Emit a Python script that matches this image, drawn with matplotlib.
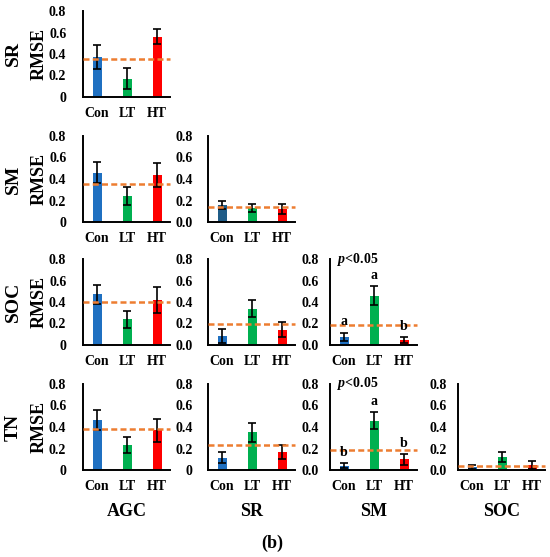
import numpy as np
import matplotlib
matplotlib.use('Agg')
import matplotlib.pyplot as plt

plt.rcParams['font.family'] = ['Liberation Serif', 'DejaVu Serif']
plt.rcParams['font.weight'] = 'bold'
plt.rcParams['mathtext.fontset'] = 'custom'
plt.rcParams['mathtext.it'] = 'Liberation Serif:italic:bold'
plt.rcParams['mathtext.rm'] = 'Liberation Serif:bold'

# RMSE of each model pair (lower triangle: row variable vs column variable)
row_vars = ['SR', 'SM', 'SOC', 'TN']
col_vars = ['AGC', 'SR', 'SM', 'SOC']
groups = ['Con', 'LT', 'HT']

rmse_mean = [
    [[0.37, 0.17, 0.56]],
    [[0.46, 0.24, 0.44], [0.16, 0.13, 0.12]],
    [[0.47, 0.24, 0.415], [0.085, 0.337, 0.14], [0.075, 0.46, 0.043]],
    [[0.465, 0.233, 0.37], [0.115, 0.35, 0.17], [0.038, 0.46, 0.10], [0.03, 0.12, 0.046]],
]
rmse_err = [
    [[0.11, 0.10, 0.07]],
    [[0.095, 0.085, 0.11], [0.04, 0.04, 0.05]],
    [[0.09, 0.08, 0.12], [0.063, 0.078, 0.07], [0.04, 0.085, 0.027]],
    [[0.09, 0.073, 0.107], [0.05, 0.087, 0.067], [0.024, 0.075, 0.05], [0.02, 0.05, 0.036]],
]
# overall RMSE (dashed line)
rmse_all = [
    [0.353],
    [0.35, 0.135],
    [0.397, 0.20, 0.19],
    [0.384, 0.23, 0.185, 0.037],
]
# significance letters
sig_letters = {(2, 2): ['a', 'a', 'b'], (3, 2): ['b', 'a', 'b']}
zero_as_int = [(0, 0), (1, 0), (2, 0), (3, 0), (3, 1)]

bar_colors = ['#1F70C1', '#00B050', '#FF0000']
dark_con = '#1F5C87'

W, H = 550, 557
fig = plt.figure(figsize=(W / 100, H / 100), dpi=100)

col_left = [83, 208, 330, 458]
row_top = [11, 136, 259, 384]
ax_w, ax_h = 87, 86
ypads = [12, 11, 8, 8]

x = np.arange(len(groups))
for i, rv in enumerate(row_vars):
    for j in range(i + 1):
        ax = fig.add_axes([col_left[j] / W, 1 - (row_top[i] + ax_h) / H, ax_w / W, ax_h / H])
        colors = list(bar_colors)
        if (i, j) == (1, 1):
            colors[0] = dark_con
        m = rmse_mean[i][j]
        e = rmse_err[i][j]
        ax.bar(x, m, width=0.3, color=colors, zorder=2)
        ax.errorbar(x, m, yerr=e, fmt='none', ecolor='black', elinewidth=1.2,
                    capsize=3, capthick=1.2, zorder=3)
        ax.axhline(rmse_all[i][j], color='#ED7D31', lw=1.8, dashes=(2.4, 1.3), zorder=4,
                   clip_on=False)
        ax.set_xlim(-0.47, 2.43)
        ax.set_ylim(0, 0.8)
        ax.set_yticks([0, 0.2, 0.4, 0.6, 0.8])
        if (i, j) in zero_as_int:
            ax.set_yticklabels(['0', '0.2', '0.4', '0.6', '0.8'])
        else:
            ax.set_yticklabels(['0.0', '0.2', '0.4', '0.6', '0.8'])
        ax.set_xticks(x)
        ax.set_xticklabels(groups)
        ax.tick_params(length=0, labelsize=10)
        ax.tick_params(axis='x', pad=7)
        ax.tick_params(axis='y', pad=ypads[j])
        for s in ['top', 'right']:
            ax.spines[s].set_visible(False)
        for s in ['left', 'bottom']:
            ax.spines[s].set_linewidth(1.4)
        if (i, j) in sig_letters:
            for k, lab in enumerate(sig_letters[(i, j)]):
                ax.text(x[k], m[k] + e[k] + 0.1, lab, ha='center', va='center',
                        fontsize=10, fontweight='bold', zorder=5)
            ax.text(0.08, 1.0, r'$p$<0.05', transform=ax.transAxes, ha='left',
                    va='center', fontsize=10)
        if j == 0:
            ax.set_ylabel('RMSE', fontsize=13, fontweight='bold', va='center')
            ax.yaxis.set_label_coords((39 - col_left[0]) / ax_w, 0.5)
            fig.text(13 / W, 1 - (row_top[i] + ax_h / 2) / H, rv, rotation=90,
                     ha='center', va='center', fontsize=14, fontweight='bold')

for j, cv in enumerate(col_vars):
    fig.text((col_left[j] + ax_w / 2) / W, 1 - 511 / H, cv, ha='center', va='center',
             fontsize=13, fontweight='bold')
fig.text(272 / W, 1 - 543 / H, '(b)', ha='center', va='center', fontsize=13)

fig.savefig('out.png', dpi=100)
